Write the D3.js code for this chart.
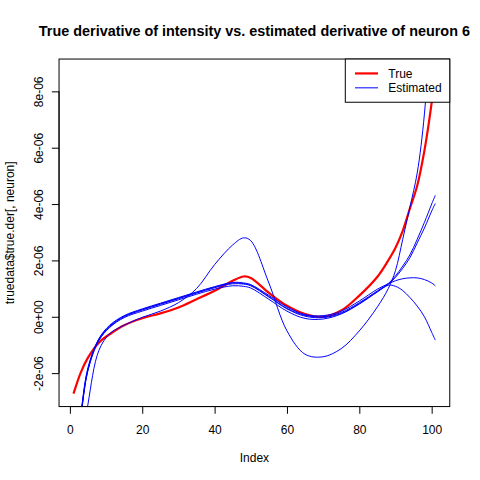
<!DOCTYPE html>
<meta charset="utf-8">
<html>
  <head>
  <title>True vs estimated derivative</title>
    <style>
      body {
        margin: 0;
        background: #fff;
        font-family: 'Liberation Sans', Arial, sans-serif;
      }
      svg text {
        font-family: 'Liberation Sans', Arial, sans-serif;
        fill: #000;
      }
    </style>
  </head>
  <body>
<div id="svgCanvas"></div>

<script src="https://d3js.org/d3.v7.min.js"></script>
<script>

// sampled indices (x), values are in units of 1e-06
var index = [1, 3, 5, 8, 11, 15, 20, 25, 30, 35, 40, 45, 48, 50, 55, 60, 65, 70, 75, 80, 85, 88, 90, 92, 94, 96, 98, 100, 101];

var trueDer = [-2.73, -1.98, -1.45, -0.92, -0.62, -0.30, -0.05, 0.12, 0.33, 0.62, 0.92, 1.28, 1.43, 1.38, 0.85, 0.39, 0.10, 0.00, 0.22, 0.75, 1.42, 2.00, 2.45, 3.05, 3.85, 4.65, 5.90, 7.60, 8.69];

var est1 = [-5.4, -3.5, -1.85, -0.80, -0.33, 0.02, 0.26, 0.46, 0.66, 0.86, 1.05, 1.20, 1.18, 1.12, 0.72, 0.30, 0.05, 0.00, 0.15, 0.50, 0.92, 1.18, 1.45, 1.80, 2.20, 2.75, 3.35, 4.00, 4.31];
var est2 = [-5.6, -3.6, -1.90, -0.83, -0.36, 0.00, 0.24, 0.44, 0.64, 0.84, 1.03, 1.17, 1.16, 1.10, 0.70, 0.28, 0.02, -0.03, 0.12, 0.47, 0.90, 1.15, 1.40, 1.72, 2.10, 2.62, 3.15, 3.75, 4.02];
var est3 = [-5.3, -3.45, -1.80, -0.78, -0.30, 0.04, 0.28, 0.48, 0.68, 0.88, 1.07, 1.22, 1.20, 1.14, 0.76, 0.35, 0.08, 0.04, 0.20, 0.56, 0.98, 1.17, 1.28, 1.35, 1.38, 1.38, 1.32, 1.20, 1.10];
var est4 = [-5.5, -3.55, -1.88, -0.85, -0.38, -0.03, 0.20, 0.40, 0.60, 0.80, 0.98, 1.10, 1.08, 1.02, 0.62, 0.20, -0.06, -0.08, 0.10, 0.45, 0.88, 1.12, 1.08, 0.93, 0.68, 0.38, 0.00, -0.55, -0.83];
var est5 = [-7.5, -5.0, -3.10, -1.20, -0.60, -0.30, -0.02, 0.20, 0.50, 1.00, 1.85, 2.55, 2.80, 2.70, 1.20, -0.50, -1.33, -1.42, -1.13, -0.50, 0.35, 1.00, 1.64, 2.75, 3.90, 5.10, 7.20, 11.0, 13.0];

var estimated = [est1, est2, est3, est4, est5];

var xTicks = [0, 20, 40, 60, 80, 100];
var yTicks = [-2, 0, 2, 4, 6, 8];
var yTickLabels = ["-2e-06", "0e+00", "2e-06", "4e-06", "6e-06", "8e-06"];

var width = 480;
var height = 480;
var pLeft = 59.04, pRight = 449.76, pTop = 59.04, pBottom = 406.56;

var holder = d3.select("#svgCanvas")
    .append("svg")
      .attr("width", width)
      .attr("height", height);

// R style ranges: data extent padded by 4%
var xExt = d3.extent(index);
var xPad = (xExt[1] - xExt[0]) * 0.04;
var yExt = d3.extent(trueDer);
var yPad = (yExt[1] - yExt[0]) * 0.04;

var x = d3.scaleLinear().domain([xExt[0] - xPad, xExt[1] + xPad]).range([pLeft, pRight]);
var y = d3.scaleLinear().domain([yExt[0] - yPad, yExt[1] + yPad]).range([pBottom, pTop]);

holder.append("clipPath")
    .attr("id", "plotClip")
  .append("rect")
    .attr("x", pLeft)
    .attr("y", pTop)
    .attr("width", pRight - pLeft)
    .attr("height", pBottom - pTop);

var line = d3.line()
    .x(function(d, i) { return x(index[i]); })
    .y(function(d) { return y(d); })
    .curve(d3.curveCatmullRom.alpha(0.5));

var plot = holder.append("g").attr("clip-path", "url(#plotClip)");

plot.append("path")
    .datum(trueDer)
    .attr("d", line)
    .style("fill", "none")
    .style("stroke", "#FF0000")
    .style("stroke-width", 2.2);

plot.selectAll(".est")
  .data(estimated).enter()
    .append("path")
    .attr("class", "est")
    .attr("d", line)
    .style("fill", "none")
    .style("stroke", "#0000FF")
    .style("stroke-width", 1);

// box
holder.append("rect")
    .attr("x", pLeft)
    .attr("y", pTop)
    .attr("width", pRight - pLeft)
    .attr("height", pBottom - pTop)
    .style("fill", "none")
    .style("stroke", "#000")
    .style("stroke-width", 1);

// x axis
var xAxis = holder.append("g")
    .attr("transform", "translate(0," + pBottom + ")")
    .call(d3.axisBottom(x).tickValues(xTicks).tickSize(7.2).tickFormat(d3.format("d")));
xAxis.select(".domain")
    .attr("d", "M" + x(xTicks[0]) + ",0H" + x(xTicks[xTicks.length - 1]));
xAxis.selectAll("text")
    .attr("dy", null)
    .attr("y", 27)
    .style("font-size", "12px");

// y axis, labels turned like R
var yAxis = holder.append("g")
    .attr("transform", "translate(" + pLeft + ",0)")
    .call(d3.axisLeft(y).tickValues(yTicks).tickSize(7.2).tickFormat(function(d, i) { return yTickLabels[i]; }));
yAxis.select(".domain")
    .attr("d", "M0," + y(yTicks[0]) + "V" + y(yTicks[yTicks.length - 1]));
yAxis.selectAll("text")
    .attr("x", null)
    .attr("dy", null)
    .attr("text-anchor", "middle")
    .attr("transform", "translate(-16.4,0) rotate(-90)")
    .style("font-size", "12px");
holder.selectAll(".domain, .tick line").style("stroke", "#000");

// titles
holder.append("text")
    .attr("x", (pLeft + pRight) / 2)
    .attr("y", 36)
    .attr("text-anchor", "middle")
    .style("font-size", "14.4px")
    .style("font-weight", "bold")
    .text("True derivative of intensity vs. estimated derivative of neuron 6");

holder.append("text")
    .attr("x", (pLeft + pRight) / 2)
    .attr("y", 462.3)
    .attr("text-anchor", "middle")
    .style("font-size", "12px")
    .text("Index");

holder.append("text")
    .attr("transform", "translate(14," + ((pTop + pBottom) / 2) + ") rotate(-90)")
    .attr("text-anchor", "middle")
    .style("font-size", "12px")
    .text("truedata$true.der[, neuron]");

// legend
var legendItems = [
  {name: "True", color: "#FF0000", w: 2.2},
  {name: "Estimated", color: "#0000FF", w: 1}
];
var legend = holder.append("g");
legend.append("rect")
    .attr("x", 345.3)
    .attr("y", pTop)
    .attr("width", pRight - 345.3)
    .attr("height", 43.2)
    .style("fill", "#fff")
    .style("stroke", "#000")
    .style("stroke-width", 1);
var items = legend.selectAll(".item")
  .data(legendItems).enter()
    .append("g")
    .attr("transform", function(d, i) { return "translate(0," + (pTop + 14.4 + i * 14.4) + ")"; });
items.append("line")
    .attr("x1", 355)
    .attr("x2", 378)
    .style("stroke", function(d) { return d.color; })
    .style("stroke-width", function(d) { return d.w; });
items.append("text")
    .attr("x", 388.3)
    .attr("dy", "0.35em")
    .style("font-size", "12px")
    .text(function(d) { return d.name; });

</script>
  </body>
</html>
